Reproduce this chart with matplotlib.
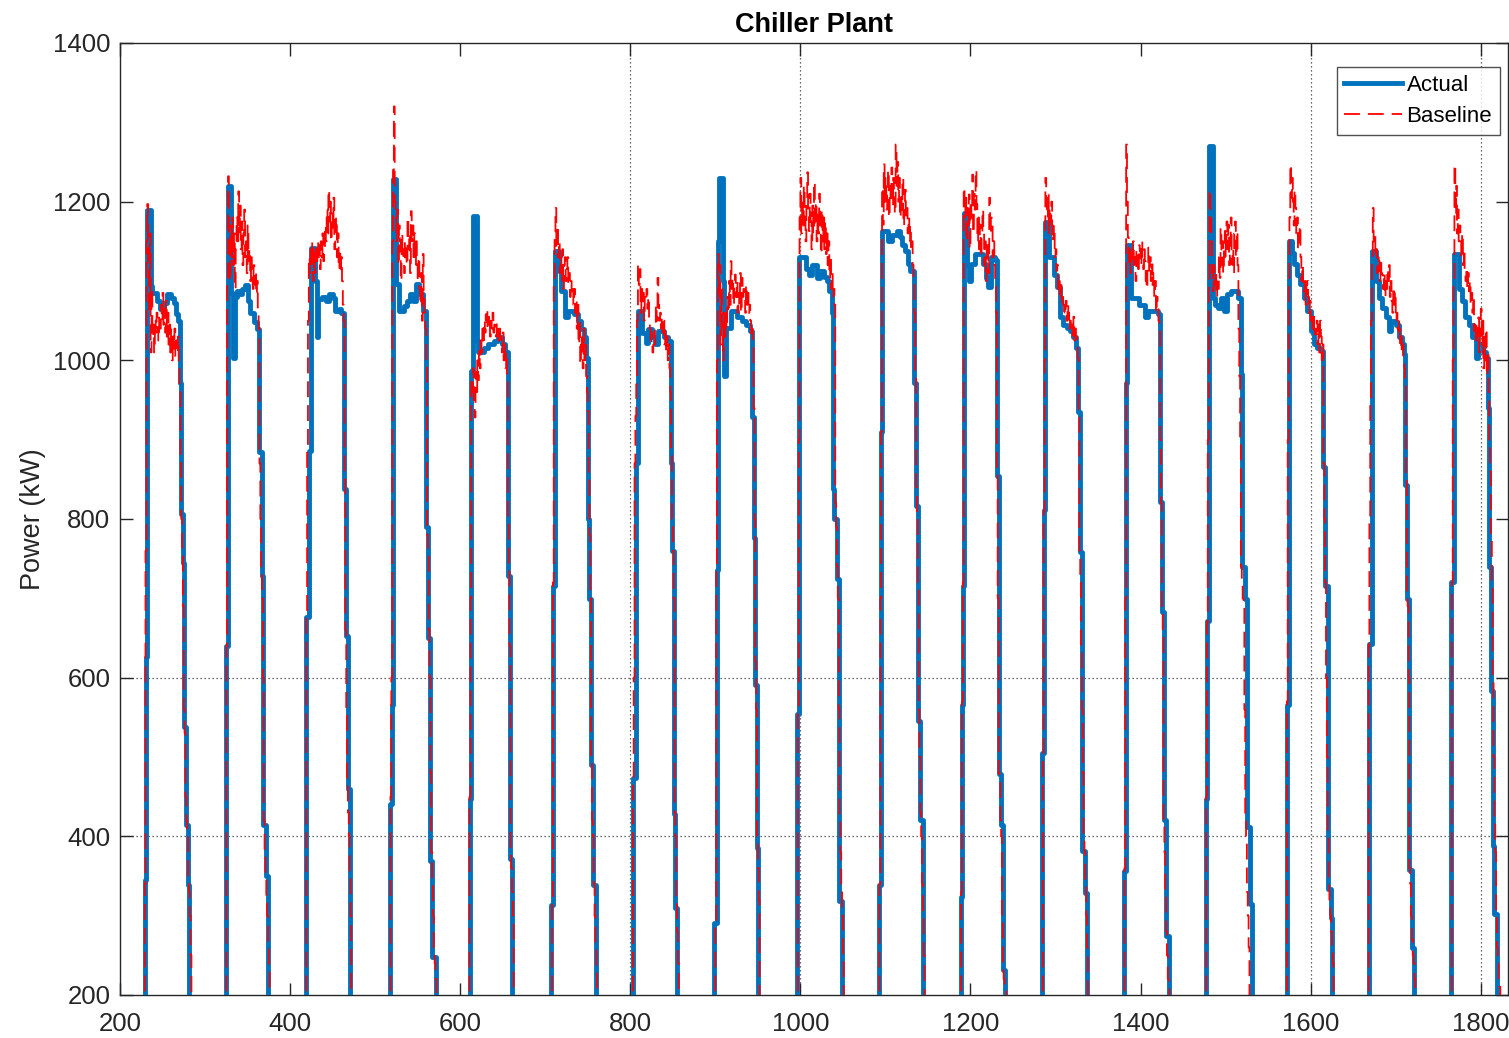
import numpy as np
import matplotlib
matplotlib.use("Agg")
import matplotlib.pyplot as plt

plt.rcParams['font.family'] = ['Liberation Sans', 'DejaVu Sans']

# ---------------- data ----------------
chart_title = "Chiller Plant"
y_label = "Power (kW)"
series_names = ["Actual", "Baseline"]
x_ticks = [200, 400, 600, 800, 1000, 1200, 1400, 1600, 1800]
y_ticks = [200, 400, 600, 800, 1000, 1200, 1400]
x_range = [200, 1832]
y_range = [200, 1400]
grid_x_visible = [800, 1000, 1600, 1800]
grid_y_visible = [400, 600]

# Actual power: per day, change times and the value held from that time
actual_time = [
    [229, 230.5, 232, 236, 238, 244, 247, 252, 255, 260, 263, 266, 268, 270, 272, 273.5, 275, 277.5, 279.5, 281.5],
    [324.5, 326.5, 330, 331, 333, 335.5, 338, 341, 344, 347, 350, 353, 357, 361, 364, 366.5, 368.5, 371.5, 374.5],
    [419, 422.5, 424, 429, 431.5, 433, 438, 442, 446, 450, 453, 457, 460, 463, 465.5, 467.5, 470],
    [517, 519.5, 520.5, 524.5, 528, 534, 538, 541, 545, 548, 552, 556, 559.5, 562, 564.5, 567, 571],
    [611, 613, 615, 619.5, 621.5, 628, 633, 640, 645, 649, 653, 656, 658, 660.5],
    [707, 709, 711.5, 716, 719, 723, 727, 734, 738, 742, 745, 748, 750, 752, 754, 756.5, 759.5],
    [803, 806.5, 809, 814, 818, 821, 825, 829, 833, 840, 844, 847.5, 849.5, 851, 853, 855.5],
    [899, 901.5, 903, 904.5, 909, 910.5, 912.5, 918, 926, 931, 936, 941, 943.5, 945, 946.5, 948.5, 950.5],
    [996, 998.5, 1007, 1010, 1014, 1020, 1023, 1028, 1031, 1034, 1037, 1038.5, 1040, 1042.5, 1045, 1049],
    [1092.5, 1094.5, 1096, 1103, 1108, 1114, 1117, 1120, 1123, 1126, 1129, 1133, 1135.5, 1138, 1141, 1144.5],
    [1188.5, 1190, 1191, 1192, 1195.5, 1198, 1201, 1205, 1215, 1218, 1221, 1224, 1229, 1231, 1233, 1235.5, 1238, 1240.5],
    [1284.5, 1286.5, 1288, 1292, 1298, 1302, 1305, 1309, 1313, 1317, 1321, 1324, 1326.5, 1328.5, 1331, 1334.5, 1337],
    [1380.5, 1383, 1384, 1388.5, 1398, 1405, 1409, 1420, 1422.5, 1425, 1427.5, 1430, 1433],
    [1476.5, 1478.5, 1480.5, 1485, 1487.5, 1491, 1494, 1498, 1502, 1506, 1514, 1517.5, 1519.5, 1522.5, 1525.5, 1528.5, 1531],
    [1572, 1574.5, 1578, 1580, 1584, 1588, 1592, 1596, 1600, 1604, 1608, 1612, 1614.5, 1617, 1620, 1623.5, 1625.5],
    [1668.5, 1672, 1677, 1680, 1684, 1688, 1692, 1695, 1700, 1704, 1707, 1709.5, 1711, 1713, 1716, 1719, 1721],
    [1765.5, 1768.5, 1774, 1778, 1782, 1786, 1790, 1794, 1797, 1803, 1806, 1808, 1810, 1812, 1814, 1816, 1818.5],
]
actual_kw = [
    [345, 626, 1190, 1094, 1085, 1075, 1065, 1072, 1083, 1078, 1072, 1058, 1050, 972, 806, 744, 538, 414, 339, 0],
    [640, 1220, 1130, 1085, 1003, 1080, 1088, 1083, 1090, 1095, 1075, 1060, 1048, 1040, 884, 728, 414, 350, 0],
    [677, 886, 1142, 1100, 1029, 1077, 1080, 1075, 1083, 1078, 1062, 1065, 1060, 838, 653, 460, 0],
    [441, 565, 1228, 1096, 1062, 1068, 1075, 1083, 1075, 1096, 1083, 1062, 790, 650, 369, 248, 0],
    [447, 987, 1182, 1024, 1010, 1016, 1020, 1025, 1030, 1020, 1011, 728, 372, 0],
    [313, 715, 1138, 1113, 1087, 1054, 1062, 1058, 1050, 1040, 1029, 1003, 800, 699, 490, 339, 0],
    [473, 870, 1062, 1035, 1022, 1040, 1029, 1020, 1037, 1029, 1024, 870, 760, 428, 310, 0],
    [291, 736, 1150, 1230, 1100, 980, 1041, 1062, 1054, 1050, 1045, 1037, 929, 776, 591, 385, 0],
    [554, 1130, 1115, 1108, 1120, 1104, 1113, 1105, 1100, 1087, 1060, 838, 800, 725, 318, 0],
    [339, 910, 1163, 1150, 1158, 1163, 1155, 1145, 1138, 1121, 1113, 972, 817, 546, 420, 0],
    [323, 565, 715, 1186, 1120, 1100, 1121, 1134, 1121, 1104, 1092, 1130, 1127, 854, 479, 414, 232, 0],
    [505, 811, 1174, 1130, 1108, 1092, 1054, 1045, 1041, 1037, 1029, 1016, 935, 758, 382, 329, 0],
    [356, 972, 1146, 1079, 1070, 1054, 1062, 1058, 822, 683, 420, 275, 0],
    [447, 672, 1270, 1079, 1070, 1066, 1079, 1062, 1083, 1087, 1079, 983, 739, 699, 412, 315, 0],
    [565, 1150, 1135, 1121, 1108, 1096, 1079, 1062, 1037, 1020, 1016, 1012, 865, 715, 334, 297, 0],
    [642, 1138, 1100, 1079, 1066, 1054, 1037, 1050, 1045, 1029, 1020, 1008, 843, 699, 358, 259, 0],
    [720, 1134, 1090, 1075, 1054, 1045, 1029, 1003, 1020, 1010, 1003, 940, 739, 583, 388, 302, 0],
]

# Baseline power: per day, first sample time and one value per time unit
baseline_start = [229, 325, 419, 518, 611, 708, 803, 900, 997, 1093, 1189, 1285, 1381, 1477, 1572, 1668, 1766]
baseline_kw = [
    [340, 760, 1150,
     1197, 1120, 1060, 1160, 1010, 1090, 1030, 1045, 1010, 1050,
     1035, 1060, 1040, 1025, 1055, 1040, 1070, 1050, 1085, 1045,
     1065, 1035, 1075, 1030, 1060, 1020, 1045, 1010, 1040, 1000,
     1030, 1015, 1040, 1005, 1025, 1010, 1030, 990,
     960, 880, 800, 760, 690, 560, 530, 450, 420, 400, 350, 330, 300, 250],
    [640,
     1100, 1232, 1150, 1100, 1170, 1130, 1180, 1120, 1160, 1090,
     1140, 1180, 1150, 1213, 1160, 1195, 1140, 1175, 1120, 1160,
     1190, 1130, 1150, 1110, 1170, 1125, 1140, 1100, 1130, 1113,
     1090, 1120, 1095, 1110, 1083, 1100, 1062,
     1040, 870, 800, 740, 700, 600, 420, 380, 350, 320, 300, 260, 230],
    [680, 890, 1050, 1130,
     1110, 1145, 1120, 1150, 1100, 1135, 1110, 1140, 1125, 1150,
     1130, 1145, 1115, 1150, 1130, 1160, 1125, 1140, 1170, 1150,
     1190, 1160, 1215, 1175, 1200, 1150, 1185, 1165, 1205, 1140,
     1170, 1180, 1130, 1160, 1115, 1140, 1110, 1130, 1100, 1070,
     1050, 850, 660, 560, 470, 430, 400, 350, 300],
    [450, 600, 1150,
     1240, 1320, 1200, 1180, 1150, 1190, 1120, 1170, 1150, 1100,
     1160, 1130, 1140, 1110, 1150, 1140, 1120, 1180, 1140, 1160,
     1110, 1188, 1150, 1170, 1130, 1160, 1120, 1150, 1121, 1100,
     1130, 1090, 1070, 1110, 1050, 1134, 1080, 1060, 1040,
     1000, 780, 760, 660, 600, 480, 380, 340, 300, 260, 240, 220],
    [450, 700, 974,
     960, 990, 950, 928, 985, 960, 1000, 975, 1012, 990,
     1030, 1010, 1040, 1025, 1050, 1035, 1058, 1040, 1062, 1045,
     1055, 1030, 1050, 1040, 1060, 1035, 1045, 1040, 1030, 1048,
     1037, 1025, 1040, 1030, 1020, 1010, 1035, 1000, 1020, 990,
     1010, 980,
     800, 740, 640, 380, 360, 330, 300],
    [320, 720, 1100,
     1160, 1192, 1140, 1170, 1130, 1150, 1110, 1130, 1100, 1140,
     1090, 1120, 1130, 1100, 1115, 1130, 1095, 1110, 1080, 1100,
     1087, 1095, 1070, 1090, 1060, 1075, 1040, 1070, 1020, 1050,
     995, 1030, 1010, 990, 1040, 1000, 1020, 980, 960, 936,
     850, 780, 700, 500, 420, 400, 340, 300, 260, 230],
    [470, 600, 870, 930, 970,
     1050, 1120, 1095, 1115, 1060, 1090, 1070, 1085, 1050, 1080,
     1075, 1090, 1065, 1080, 1050, 1040, 1020, 1035, 1010, 1025,
     1020, 1040, 1070, 1050, 1104, 1070, 1050, 1060, 1040, 1055,
     1035, 1050, 1020, 1040, 1010, 1030, 1000, 1020, 990, 960,
     880, 800, 760, 700, 430, 400, 320, 280, 240],
    [290, 740, 1000,
     1134, 1080, 1120, 1020, 1090, 1040, 1000, 1060, 1030, 1058,
     1040, 1080, 1060, 1100, 1070, 1125, 1090, 1104, 1070, 1095,
     1108, 1080, 1100, 1060, 1085, 1070, 1110, 1060, 1104, 1080,
     1090, 1083, 1060, 1095, 1070, 1085, 1060, 1070, 1050, 1030,
     1040, 1020,
     940, 800, 620, 560, 400, 360, 320],
    [560, 900,
     1180, 1230, 1160, 1200, 1170, 1220, 1180, 1150, 1200, 1237,
     1190, 1163, 1210, 1175, 1140, 1195, 1160, 1225, 1170, 1200,
     1150, 1185, 1160, 1210, 1170, 1134, 1190, 1150, 1180, 1140,
     1175, 1134, 1160, 1120, 1150, 1104, 1130, 1090, 1110, 1080,
     1090, 1070,
     820, 790, 740, 700, 560, 420, 380, 340, 300, 250],
    [340, 700, 910,
     1218, 1171, 1247, 1200, 1230, 1190, 1213, 1240, 1180, 1220,
     1200, 1243, 1195, 1230, 1210, 1185, 1272, 1220, 1250, 1200,
     1230, 1180, 1209, 1190, 1230, 1170, 1200, 1215, 1180, 1192,
     1160, 1180, 1150, 1170, 1140, 1150, 1120, 1100, 1060,
     980, 840, 800, 720, 560, 500, 430, 400, 340, 300, 250],
    [330, 570, 720,
     1218, 1180, 1205, 1150, 1192, 1170, 1209, 1140, 1200, 1180,
     1234, 1160, 1210, 1190, 1240, 1197, 1150, 1180, 1140, 1171,
     1130, 1160, 1190, 1163, 1120, 1150, 1100, 1140, 1150, 1110,
     1205, 1160, 1180, 1175, 1130, 1150, 1120, 1100, 1060,
     860, 700, 480, 470, 420, 400, 300, 240, 220, 210, 205],
    [505, 810, 1000,
     1230, 1205, 1180, 1209, 1160, 1192, 1175, 1200, 1150, 1155,
     1170, 1130, 1140, 1113, 1120, 1090, 1100, 1083, 1095, 1070,
     1080, 1060, 1070, 1058, 1075, 1050, 1070, 1060, 1040, 1050,
     1037, 1045, 1030, 1055, 1025, 1040, 1030, 1020, 1003,
     930, 760, 720, 640, 560, 480, 400, 380, 340, 300, 260],
    [360, 700,
     1272, 1200, 1155, 1120, 1140, 1110, 1135, 1125, 1150, 1115,
     1130, 1100, 1140, 1121, 1110, 1145, 1138, 1120, 1150, 1130,
     1115, 1140, 1125, 1100, 1090, 1115, 1142, 1110, 1130, 1100,
     1121, 1095, 1110, 1080, 1100, 1060, 1080, 1070, 1050, 1045,
     900, 820, 690, 660, 420, 380, 330, 280, 250, 220, 210],
    [450, 670, 900, 1100,
     1215, 1180, 1150, 1110, 1087, 1120, 1095, 1113, 1080, 1104,
     1090, 1130, 1104, 1167, 1120, 1150, 1110, 1140, 1163, 1130,
     1175, 1140, 1171, 1120, 1150, 1180, 1121, 1140, 1110, 1160,
     1175, 1130, 1163, 1120, 1040, 980, 900, 740,
     720, 700, 690, 560, 420, 400, 330, 300, 260],
    [570, 900, 1100,
     1180, 1247, 1205, 1230, 1200, 1170, 1215, 1192, 1160, 1180,
     1140, 1158, 1170, 1130, 1100, 1120, 1090, 1087, 1100, 1070,
     1095, 1100, 1080, 1060, 1075, 1050, 1060, 1040, 1055, 1030,
     1040, 1033, 1050, 1020, 1045, 1010, 1050, 1030, 1000, 1020,
     870, 800, 720, 600, 500, 400, 340, 320, 300, 280, 260, 240],
    [640, 800, 950, 1050,
     1130, 1192, 1150, 1160, 1130, 1140, 1110, 1130, 1125, 1100,
     1125, 1110, 1108, 1090, 1110, 1080, 1100, 1090, 1115, 1100,
     1120, 1080, 1100, 1075, 1060, 1087, 1070, 1087, 1050, 1060,
     1040, 1037, 1050, 1020, 1030, 1010, 1020, 1000, 990, 970,
     850, 700, 690, 600, 360, 340, 300, 270, 250, 240, 220],
    [720, 1000, 1100,
     1247, 1184, 1220, 1160, 1190, 1150, 1170, 1155, 1130, 1160,
     1120, 1140, 1113, 1100, 1117, 1090, 1110, 1087, 1100, 1070,
     1085, 1060, 1080, 1037, 1050, 1020, 1045, 1030, 1054, 1010,
     1040, 1065, 1020, 1050, 990, 1030, 1000, 1040, 980, 1010,
     960, 900, 860, 780, 720, 600, 500, 420, 380, 300, 260, 240, 220, 210],
]

# ---------------- build series ----------------
ax_x = [x_range[0]]
ax_y = [0]
for t, v in zip(actual_time, actual_kw):
    ax_x += list(t)
    ax_y += list(v)
ax_x.append(x_range[1])
ax_y.append(0)

bl_x = [x_range[0]]
bl_y = [0]
for s, vals in zip(baseline_start, baseline_kw):
    bl_x += list(s + np.arange(len(vals)))
    bl_y += list(vals)
    bl_x.append(s + len(vals))
    bl_y.append(0)
bl_x.append(x_range[1])
bl_y.append(0)

# ---------------- plot ----------------
W, H = 1509, 1038
fig = plt.figure(figsize=(W / 100, H / 100), dpi=100)
ax = fig.add_axes([120 / W, (H - 995) / H, 1388 / W, 952 / H])

grid_style = dict(color='#3a3a3a', lw=0.9, ls=(0, (1, 2.2)), zorder=1)
for gx in grid_x_visible:
    ax.axvline(gx, **grid_style)
for gy in grid_y_visible:
    ax.axhline(gy, **grid_style)

ax.plot(ax_x, ax_y, drawstyle='steps-post', color='#0072BD', lw=3.5,
        label=series_names[0], zorder=3)
ax.plot(bl_x, bl_y, drawstyle='steps-post', color='#FF0000', lw=1.3,
        ls=(0, (8.8, 4.4)), label=series_names[1], zorder=4)

ax.set_xlim(*x_range)
ax.set_ylim(*y_range)
ax.set_xticks(x_ticks)
ax.set_yticks(y_ticks)
ax.tick_params(direction='in', length=9, width=1, top=True, right=True,
               labelsize=18.5, colors='#262626', pad=7)
ax.tick_params(axis='x', pad=12)
for sp in ax.spines.values():
    sp.set_color('#262626')
    sp.set_linewidth(1.0)

ax.set_title(chart_title, fontsize=19.5, fontweight='bold', pad=8, color='black')
ax.set_ylabel(y_label, fontsize=19.5, color='#262626', labelpad=5)

leg = ax.legend(loc='upper right', bbox_to_anchor=(0.9942, 0.9748),
                borderaxespad=0, fontsize=16, frameon=True, fancybox=False,
                edgecolor='#262626', handlelength=2.6, handletextpad=0.2,
                borderpad=0.35, labelspacing=0.45)
leg.get_frame().set_linewidth(1.0)

fig.savefig('out.png', dpi=100)
